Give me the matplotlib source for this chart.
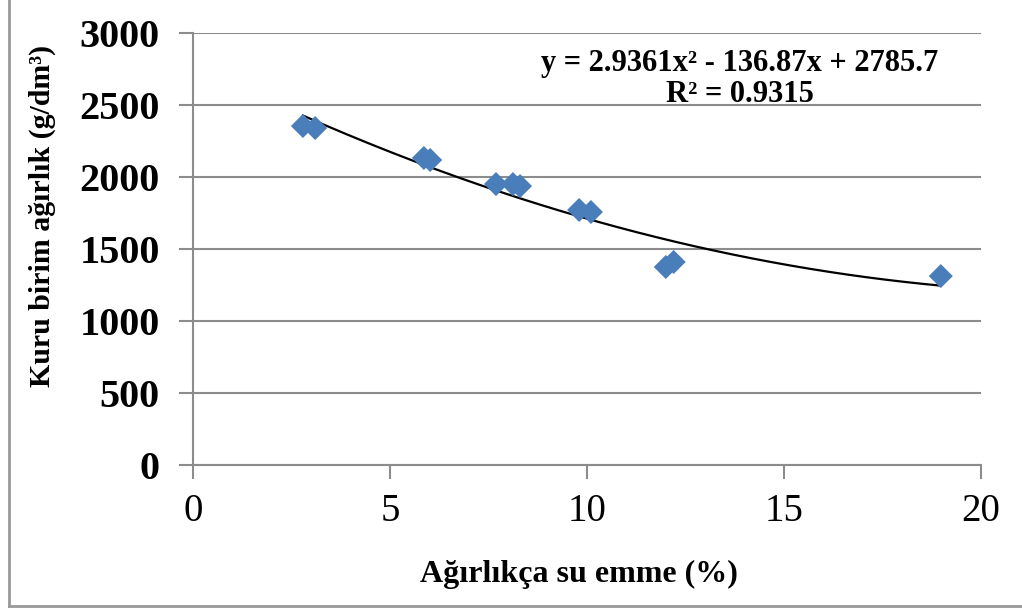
import numpy as np
import matplotlib
matplotlib.use("Agg")
import matplotlib.pyplot as plt
from matplotlib.lines import Line2D

# Water absorption (%) vs dry unit weight (g/dm3)
su_emme = [2.79, 3.10, 5.86, 6.02, 7.69, 8.12, 8.30, 9.80, 10.10, 12.00, 12.20, 18.98]
kuru_agirlik = [2354, 2340, 2132, 2118, 1951, 1951, 1937, 1771, 1757, 1375, 1410, 1312]

# Second-order polynomial trendline coefficients
coef = [2.9361, -136.87, 2785.7]
r2 = 0.9315

x_ticks = [0, 5, 10, 15, 20]
y_ticks = [0, 500, 1000, 1500, 2000, 2500, 3000]

plt.rcParams['font.family'] = ['Liberation Serif', 'DejaVu Serif']

fig = plt.figure(figsize=(10.22, 6.10), dpi=100)
ax = fig.add_axes([193 / 1022, 1 - 465 / 610, 788 / 1022, 432 / 610])

grey = '#8c8c8c'
ax.set_xlim(0, 20)
ax.set_ylim(0, 3000)
ax.set_xticks(x_ticks)
ax.set_yticks(y_ticks)
ax.yaxis.grid(True, color=grey, linewidth=1.5)
ax.set_axisbelow(True)
for side in ['top', 'right']:
    ax.spines[side].set_visible(False)
for side in ['left', 'bottom']:
    ax.spines[side].set_color(grey)
    ax.spines[side].set_linewidth(1.5)
ax.tick_params(axis='both', direction='out', length=10, width=1.5, color=grey)
ax.tick_params(axis='x', labelsize=28, pad=10)
ax.tick_params(axis='y', labelsize=29, pad=14)
for lab in ax.get_yticklabels():
    lab.set_fontweight('bold')

# Trendline
xs = np.linspace(min(su_emme), max(su_emme), 200)
ax.plot(xs, np.polyval(coef, xs), color='black', linewidth=1.6, zorder=3)

# Data points
ax.scatter(su_emme, kuru_agirlik, marker='D', s=150, color='#4a7ebb',
           edgecolors='none', zorder=4, clip_on=False)

ax.text(0.694, 0.893,
        f'y = {coef[0]}x² - {abs(coef[1])}x + {coef[2]}\nR² = {r2}',
        transform=ax.transAxes, ha='center', va='center', fontsize=22,
        fontweight='bold', linespacing=1.1)

ax.set_xlabel('Ağırlıkça su emme (%)', fontsize=23, fontweight='bold')
ax.xaxis.set_label_coords((579 - 193) / 788, (465 - 560) / 432)
ax.set_ylabel('Kuru birim ağırlık (g/dm³)', fontsize=21.5, fontweight='bold')
ax.yaxis.set_label_coords((56 - 193) / 788, (465 - 216) / 432)

# Outer chart border
for (x0, y0, x1, y1) in [(9, 606, 1022, 606), (9, 0, 9, 606)]:
    fig.add_artist(Line2D([x0 / 1022, x1 / 1022], [1 - y0 / 610, 1 - y1 / 610],
                          color='#999999', linewidth=2, transform=fig.transFigure))

fig.savefig('out.png', dpi=100)
